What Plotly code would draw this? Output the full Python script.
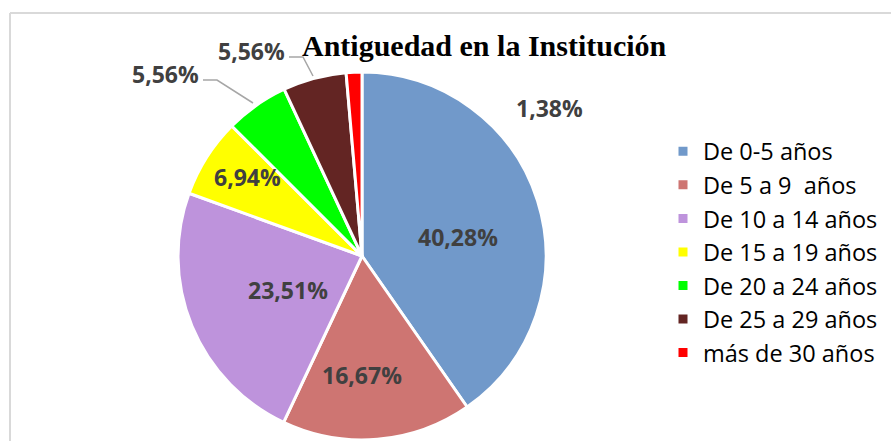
import plotly.graph_objects as go

W, H = 891, 441

# ---- data ----
categories = ["De 0-5 años", "De 5 a 9  años", "De 10 a 14 años", "De 15 a 19 años",
              "De 20 a 24 años", "De 25 a 29 años", "más de 30 años"]
values = [40.28, 16.67, 23.51, 6.94, 5.56, 5.56, 1.38]
value_labels = ["40,28%", "16,67%", "23,51%", "6,94%", "5,56%", "5,56%", "1,38%"]
title_text = "Antiguedad en la Institución"

# ---- styles ----
colors = ["#7199CA", "#CE7572", "#BE93DC", "#FFFF00", "#00FF00", "#632523", "#FF0000"]

# label positions in pixels (layout only)
label_px = [(458, 237), (362, 375), (288, 290), (247, 177), (165, 74), (251, 51), (549, 108)]
# leader lines for outside labels (pixel paths)
leaders = [
    [(203, 80), (217, 80), (253, 103)],
    [(289, 57), (303, 57), (313, 76)],
]


def px(x):
    return x / W


def py(y):
    return 1 - y / H


fig = go.Figure()
fig.add_trace(go.Pie(
    labels=categories,
    values=values,
    sort=False,
    direction="clockwise",
    rotation=0,
    marker=dict(colors=colors, line=dict(color="white", width=3)),
    textinfo="none",
    hoverinfo="label+percent",
    domain=dict(x=[0.1998, 0.6128], y=[0.0023, 0.8367]),
    showlegend=True,
))

annotations = []
for (x, y), t in zip(label_px, value_labels):
    annotations.append(dict(
        x=px(x), y=py(y), xref="paper", yref="paper", text=t, showarrow=False,
        xanchor="center", yanchor="middle",
        font=dict(family="Open Sans", size=23, color="#404040", weight="bold"),
    ))

annotations.append(dict(
    x=px(484), y=py(45), xref="paper", yref="paper", text="<b>" + title_text + "</b>",
    showarrow=False, xanchor="center", yanchor="middle",
    font=dict(family="Liberation Serif", size=30, color="#000000"),
))

shapes = [
    dict(type="line", xref="paper", yref="paper", x0=px(10), x1=px(W + 5), y0=py(13), y1=py(13),
         line=dict(color="#D9D9D9", width=2)),
    dict(type="line", xref="paper", yref="paper", x0=px(10), x1=px(10), y0=py(13), y1=py(H + 5),
         line=dict(color="#D9D9D9", width=2)),
]
for path in leaders:
    d = "M " + " L ".join(f"{px(a)},{py(b)}" for a, b in path)
    shapes.append(dict(type="path", xref="paper", yref="paper", path=d,
                       line=dict(color="#A6A6A6", width=1.5)))

fig.update_layout(
    width=W, height=H,
    margin=dict(l=0, r=0, t=0, b=0),
    paper_bgcolor="white",
    plot_bgcolor="white",
    annotations=annotations,
    shapes=shapes,
    legend=dict(
        x=px(663), y=py(252), xanchor="left", yanchor="middle",
        font=dict(family="Open Sans", size=23.5, color="#000000"),
        bgcolor="rgba(0,0,0,0)",
        traceorder="normal",
    ),
)

fig.write_html("out.html", config={"displayModeBar": False},
               post_script="document.body.style.margin='0px';document.body.style.overflow='hidden';")
